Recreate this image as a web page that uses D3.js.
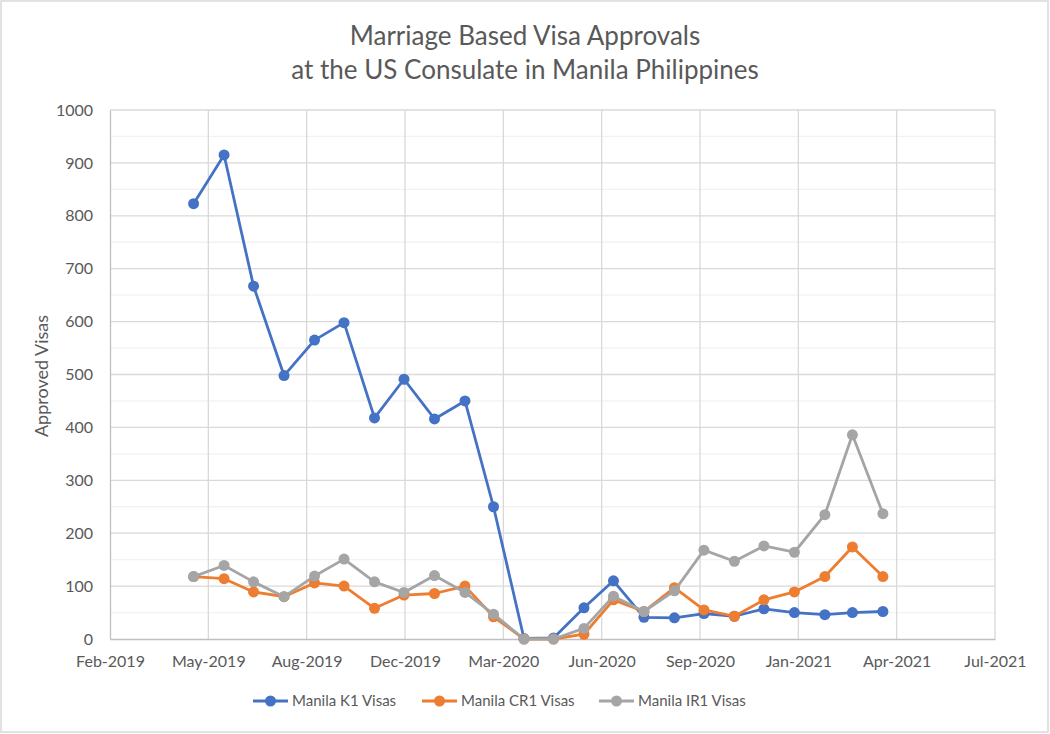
<!DOCTYPE html>
<html>
<head>
<meta charset="utf-8">
<script src="https://cdn.jsdelivr.net/npm/d3@7"></script>
<style>
  body { margin: 0; background: #fff; }
  svg text { font-family: Lato, "Open Sans", sans-serif; fill: #595959; }
</style>
</head>
<body>
<script>
// monthly data, May 2019 .. Apr 2021
var months = ["2019-05-01","2019-06-01","2019-07-01","2019-08-01","2019-09-01","2019-10-01",
  "2019-11-01","2019-12-01","2020-01-01","2020-02-01","2020-03-01","2020-04-01",
  "2020-05-01","2020-06-01","2020-07-01","2020-08-01","2020-09-01","2020-10-01",
  "2020-11-01","2020-12-01","2021-01-01","2021-02-01","2021-03-01","2021-04-01"];
var k1Visas  = [823, 915, 667, 498, 565, 598, 418, 491, 416, 450, 250, 1, 2, 59, 110, 41, 40, 48, 43, 57, 50, 46, 50, 52];
var cr1Visas = [118, 114, 89, 80, 106, 100, 58, 83, 86, 100, 42, 0, 0, 9, 74, 52, 97, 55, 43, 74, 89, 118, 174, 118];
var ir1Visas = [118, 139, 108, 80, 119, 151, 108, 88, 120, 88, 47, 0, 0, 20, 81, 52, 91, 168, 147, 176, 164, 235, 386, 237];
var seriesNames = ["Manila K1 Visas", "Manila CR1 Visas", "Manila IR1 Visas"];
var colors = ["#4472C4", "#ED7D31", "#A5A5A5"];
var yTicks = [0, 100, 200, 300, 400, 500, 600, 700, 800, 900, 1000];

var width = 1050, height = 734;
var mLeft = 110, mTop = 110, mRight = 995, mBottom = 639;

var parse = d3.timeParse("%Y-%m-%d");
var dates = months.map(parse);
var xMin = parse("2019-02-05");
var xMax = d3.timeDay.offset(xMin, 900);
var xTicks = d3.range(0, 10).map(function(k) { return d3.timeDay.offset(xMin, k * 100); });

var x = d3.scaleTime().domain([xMin, xMax]).range([mLeft, mRight]);
var y = d3.scaleLinear().domain([0, 1000]).range([mBottom, mTop]);

var svg = d3.select("body").append("svg")
    .attr("width", width)
    .attr("height", height);

svg.append("rect")
    .attr("x", 1).attr("y", 1).attr("width", width - 3).attr("height", height - 3)
    .attr("fill", "#fff").attr("stroke", "#d9d9d9").attr("stroke-width", 1.5);

// minor horizontal grid
svg.append("g").selectAll("line").data(d3.range(50, 1000, 100)).enter()
    .append("line")
    .attr("x1", mLeft).attr("x2", mRight)
    .attr("y1", function(d) { return y(d); }).attr("y2", function(d) { return y(d); })
    .attr("stroke", "#f2f2f2").attr("stroke-width", 1.3);

// major grid
svg.append("g").selectAll("line").data(yTicks.slice(1)).enter()
    .append("line")
    .attr("x1", mLeft).attr("x2", mRight)
    .attr("y1", function(d) { return y(d); }).attr("y2", function(d) { return y(d); })
    .attr("stroke", "#d9d9d9").attr("stroke-width", 1.3);
svg.append("g").selectAll("line").data(xTicks.slice(1)).enter()
    .append("line")
    .attr("y1", mTop).attr("y2", mBottom)
    .attr("x1", function(d) { return x(d); }).attr("x2", function(d) { return x(d); })
    .attr("stroke", "#d9d9d9").attr("stroke-width", 1.3);

// axes
var yAxis = d3.axisLeft(y).tickValues(yTicks).tickSize(0).tickPadding(17).tickFormat(d3.format("d"));
var gy = svg.append("g").attr("transform", "translate(" + mLeft + ",0)").call(yAxis);
gy.select(".domain").attr("stroke", "#bfbfbf").attr("stroke-width", 1.3);
gy.selectAll("text").style("font-size", "16px");

var xAxis = d3.axisBottom(x).tickValues(xTicks).tickSize(0).tickPadding(17)
    .tickFormat(d3.timeFormat("%b-%Y"));
var gx = svg.append("g").attr("transform", "translate(0," + mBottom + ")").call(xAxis);
gx.select(".domain").attr("stroke", "#bfbfbf").attr("stroke-width", 1.3);
gx.selectAll("text").style("font-size", "16px");

// lines and markers
var allSeries = [k1Visas, cr1Visas, ir1Visas];
var line = d3.line()
    .x(function(d, i) { return x(dates[i]); })
    .y(function(d) { return y(d); });

allSeries.forEach(function(vals, s) {
    svg.append("path")
        .datum(vals)
        .attr("fill", "none")
        .attr("stroke", colors[s])
        .attr("stroke-width", 2.8)
        .attr("stroke-linejoin", "round")
        .attr("d", line);
    svg.append("g").selectAll("circle").data(vals).enter()
        .append("circle")
        .attr("cx", function(d, i) { return x(dates[i]); })
        .attr("cy", function(d) { return y(d); })
        .attr("r", 5.5)
        .attr("fill", colors[s]);
});

// title
svg.append("text").attr("x", 525).attr("y", 45).attr("text-anchor", "middle")
    .style("font-size", "26px").text("Marriage Based Visa Approvals");
svg.append("text").attr("x", 525).attr("y", 79).attr("text-anchor", "middle")
    .style("font-size", "26px").text("at the US Consulate in Manila Philippines");

// y label
svg.append("text")
    .attr("transform", "translate(48,376) rotate(-90)")
    .attr("text-anchor", "middle")
    .style("font-size", "18px")
    .text("Approved Visas");

// legend
var legendX = [253, 422, 599];
seriesNames.forEach(function(name, s) {
    var g = svg.append("g").attr("transform", "translate(" + legendX[s] + ",701)");
    g.append("line").attr("x1", 0).attr("x2", 35).attr("stroke", colors[s]).attr("stroke-width", 2.8);
    g.append("circle").attr("cx", 17.5).attr("r", 5.5).attr("fill", colors[s]);
    g.append("text").attr("x", 39).attr("dy", "0.35em").style("font-size", "15px").text(name);
});
</script>
</body>
</html>
